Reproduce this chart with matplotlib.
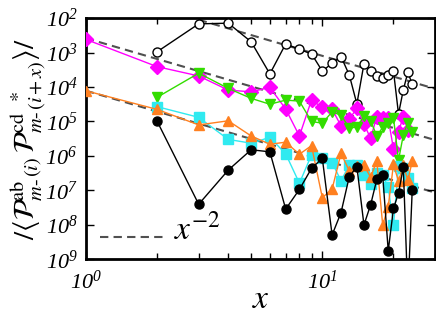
import numpy as np
import matplotlib
matplotlib.use('Agg')
import matplotlib.pyplot as plt
from matplotlib.ticker import FixedLocator, LogLocator, NullFormatter

plt.rcParams['mathtext.fontset'] = 'stix'
plt.rcParams['mathtext.rm'] = 'Liberation Serif:italic'
plt.rcParams['mathtext.it'] = 'Liberation Serif:italic'
plt.rcParams['font.family'] = ['STIXGeneral', 'DejaVu Serif']

# datos (log10 de los valores)
x_open = list(range(2, 25))
y_open = [-2.98, -2.17, -2.15, -2.69, -3.62, -2.75, -2.91, -3.04, -3.54, -3.31, -3.12,
          -3.65, -4.49, -3.33, -3.54, -3.67, -3.73, -3.65, -3.54, -4.78, -4.09, -3.57, -3.92]

x_mag = list(range(1, 24))
y_mag = [-2.62, -3.41, -3.68, -4.09, -4.14, -4.01, -4.64, -5.42, -4.38, -4.59, -4.64, -5.13,
         -4.93, -4.62, -5.07, -5.49, -4.86, -4.91, -4.91, -5.80, -5.30, -4.86, -5.25]

x_green = list(range(2, 25))
y_green = [-4.30, -3.60, -4.04, -4.33, -4.50, -4.38, -4.41, -5.00, -5.05, -4.72, -4.82, -5.18,
           -5.17, -4.85, -4.98, -5.42, -5.17, -5.05, -4.90, -6.12, -5.40, -5.03, -5.30]

x_cyan = list(range(2, 25))
y_cyan = [-4.57, -4.88, -5.52, -5.63, -5.46, -5.94, -6.79, -5.97, -6.07, -6.19, -6.72, -6.26,
          -6.26, -6.55, -6.81, -6.50, -6.55, -6.91, -8.00, -6.30, -6.36, -6.65, -6.92]

x_orange = list(range(1, 25))
y_orange = [-4.11, -4.65, -5.10, -4.98, -5.42, -5.66, -5.60, -5.95, -5.70, -7.21, -6.96, -5.92,
            -6.43, -6.29, -6.26, -6.62, -6.14, -8.00, -7.47, -6.24, -6.74, -6.26, -6.70, -6.16]

x_black = list(range(2, 25))
y_black = [-4.99, -7.40, -6.41, -5.82, -5.88, -7.54, -6.97, -6.36, -6.07, -8.29, -7.64, -6.60,
           -6.31, -8.00, -7.42, -6.68, -6.55, -8.75, -7.52, -7.08, -6.33, -10.0, -7.00]

# rectas de referencia x^-2
c_guias = [0.08, 2.6e-3, 7.8e-5]
x_ini = [3, 1, 1]

fig = plt.figure(figsize=(4.36, 3.16), dpi=100)
ax = fig.add_axes([0.197, 0.179, 0.801, 0.764])

guion = (0, (4, 2.5))
for c, x0 in zip(c_guias, x_ini):
    xx = np.array([x0, 30.0])
    ax.plot(xx, c * xx ** -2.0, ls=guion, color='#505050', lw=1.5, zorder=1)

ax.plot(x_open, 10.0 ** np.array(y_open), '-o', color='black', mfc='white', mec='black',
        ms=6.5, lw=1, mew=1, zorder=3)
ax.plot(x_mag, 10.0 ** np.array(y_mag), '-D', color='#ff00ff', ms=7.5, lw=1, zorder=3)
ax.plot(x_green, 10.0 ** np.array(y_green), '-v', color='#33dd00', ms=7, lw=1, zorder=3)
ax.plot(x_cyan, 10.0 ** np.array(y_cyan), '-s', color='#30eaf0', ms=6.5, lw=1, zorder=3)
ax.plot(x_orange, 10.0 ** np.array(y_orange), '-^', color='#ff8020', ms=7, lw=1, zorder=3)
ax.plot(x_black, 10.0 ** np.array(y_black), '-o', color='black', ms=6.5, lw=1, zorder=3)

# leyenda a mano
ax.plot([1.15, 2.2], [4.5e-9, 4.5e-9], ls=guion, color='#505050', lw=1.5)
ax.text(2.35, 7e-9, r'$x^{-2}$', fontsize=24, va='center', ha='left')

ax.set_xscale('log')
ax.set_yscale('log')
ax.set_xlim(1, 30)
ax.set_ylim(1e-9, 1e-2)

ax.yaxis.set_major_locator(FixedLocator([10.0 ** k for k in range(-9, -1)]))
ax.yaxis.set_minor_locator(FixedLocator([]))
ylabs = ax.set_yticklabels([r'$10^{%d}$' % (-k) for k in range(-9, -1)], fontsize=16)
ax.xaxis.set_major_locator(FixedLocator([1, 10]))
ax.xaxis.set_minor_locator(LogLocator(base=10, subs=np.arange(2, 10)))
ax.xaxis.set_minor_formatter(NullFormatter())
xlabs = ax.set_xticklabels([r'$10^{0}$', r'$10^{1}$'], fontsize=16)
for t in list(ylabs) + list(xlabs):
    t.set_math_fontfamily('custom')

ax.tick_params(which='both', direction='in', top=True, right=True)
ax.tick_params(which='major', length=6, width=1)
ax.tick_params(which='minor', length=4, width=1)
ax.tick_params(axis='x', pad=8)
ax.tick_params(axis='y', pad=6)
for s in ax.spines.values():
    s.set_linewidth(2)

ax.set_xlabel(r'$x$', fontsize=24, labelpad=-6)
ax.set_ylabel('$/\\langle\\mathcal{P}^{\\mathrm{ab}}_{m\u2010}{}_{(i)}\\,'
              '\\mathcal{P}^{\\mathrm{cd}}_{m\u2010}{}_{(i+x)}^{\\ *}\\rangle/$',
              fontsize=21, labelpad=-2)

plt.savefig('out.png', dpi=100)
